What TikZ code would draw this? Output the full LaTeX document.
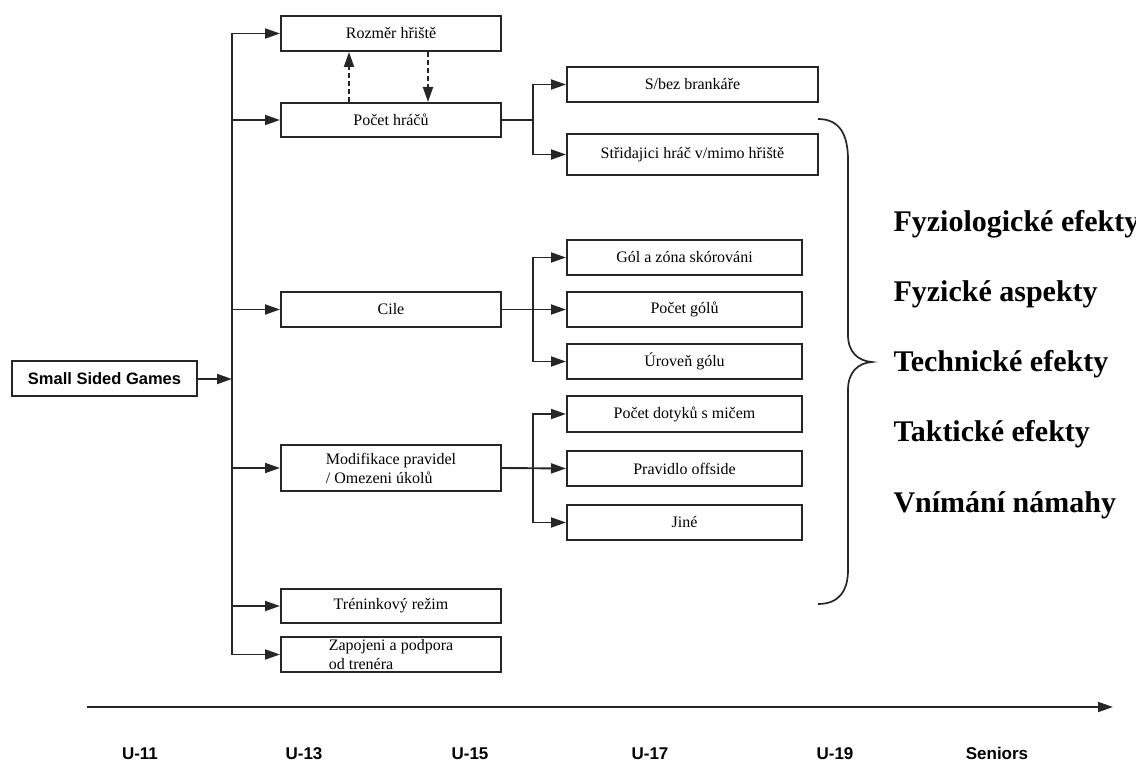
\documentclass[tikz,border=0pt]{standalone}
\usepackage{fontspec}
\setmainfont{Liberation Serif}
\setsansfont{Liberation Sans}
\usetikzlibrary{arrows.meta}

\tikzset{
  box/.style={draw=black!85, line width=2pt, minimum width=220pt, minimum height=35pt,
    inner sep=2pt, font=\fontsize{16}{19}\selectfont},
  subbox/.style={box, minimum width=235pt},
  link/.style={line width=1.9pt, draw=black!85},
  arr/.style={link, -{Triangle[length=15pt,width=10pt]}},
  dasharr/.style={arr, dash pattern=on 5pt off 3pt},
  effect/.style={anchor=base west, font=\fontsize{30}{36}\selectfont\bfseries},
  agelabel/.style={anchor=base, font=\sffamily\bfseries\fontsize{17}{20}\selectfont},
}

\begin{document}
\begin{tikzpicture}[x=1pt,y=-1pt]
    \useasboundingbox (0,0) rectangle (1136,767);

    % main column
    \node[box, minimum width=185pt, font=\sffamily\bfseries\fontsize{16.5}{19}\selectfont] (ssg) at (104.5,379) {Small Sided Games};
    \node[box] (rozmer) at (391,33.5) {Rozměr hřiště};
    \node[box, minimum height=34pt] (hraci) at (391,120) {Počet hráčů};
    \node[box] (cile) at (391,309.5) {Cile};
    \node[box, minimum height=46pt, align=left] (pravidla) at (391,468) {Modifikace pravidel\\/ Omezeni úkolů};
    \node[box, minimum height=34pt] (rezim) at (391,606) {Tréninkový režim};
    \node[box, align=left, inner ysep=0pt] (trener) at (391,654.5) {Zapojeni a podpora\\od trenéra};

    % second column
    \node[box, minimum width=251pt] (brankar) at (692.5,84.5) {S/bez brankáře};
    \node[box, minimum width=251pt, minimum height=41pt] (strid) at (692.5,154.5) {Střidajici hráč v/mimo hřiště};
    \node[subbox] (zona) at (684.5,257.5) {Gól a zóna skórováni};
    \node[subbox] (goly) at (684.5,309.5) {Počet gólů};
    \node[subbox] (uroven) at (684.5,361.5) {Úroveň gólu};
    \node[subbox, minimum height=36pt] (doteky) at (684.5,414) {Počet dotyků s mičem};
    \node[subbox] (offside) at (684.5,468.5) {Pravidlo offside};
    \node[subbox] (jine) at (684.5,522.5) {Jiné};

    % trunk
    \coordinate (ttop) at (232,33.5);
    \coordinate (tbot) at (232,654.5);
    \draw[link, line cap=rect] (ttop) -- (tbot);
    \draw[arr] (ssg.east) -- (ssg.east -| ttop);
    \foreach \n in {rozmer,hraci,cile,pravidla,rezim,trener}
        \draw[arr] (ttop |- \n.west) -- (\n.west);

    % dashed links
    \draw[dasharr] ([xshift=-42pt]hraci.north) -- ([xshift=-42pt]rozmer.south);
    \draw[dasharr] ([xshift=37pt]rozmer.south) -- ([xshift=37pt]hraci.north);

    % branches
    \coordinate (bhraci) at (533,120);
    \coordinate (bcile) at (533,309.5);
    \coordinate (bpravidla) at (533,468);
    \draw[link] (hraci.east) -- (bhraci);
    \draw[arr] (bhraci) |- (brankar.west);
    \draw[arr] (bhraci) |- (strid.west);
    \draw[arr] (cile.east) -- (goly.west);
    \draw[arr] (bcile) |- (zona.west);
    \draw[arr] (bcile) |- (uroven.west);
    \draw[arr] (pravidla.east) -- (offside.west);
    \draw[arr] (bpravidla) |- (doteky.west);
    \draw[arr] (bpravidla) |- (jine.west);

    % brace
    \draw[link, line width=1.7pt] (818,119) .. controls (840,119) and (848,135) .. (848,160) -- (848,335)
        .. controls (848,352) and (858,361) .. (872,362)
        .. controls (858,363) and (848,372) .. (848,390) -- (848,570)
        .. controls (848,592) and (838,604) .. (818,604);

    % effects
    \foreach \txt [count=\i] in {Fyziologické efekty, Fyzické aspekty, Technické efekty, Taktické efekty, Vnímání námahy}
        \node[effect] (eff\i) at (890,162+70*\i) {\txt};

    % age axis
    \coordinate (axstart) at (87,707);
    \coordinate (axend) at (1113,707);
    \draw[arr] (axstart) -- (axend);
    \foreach \x/\lab in {140/U-11, 304/U-13, 470/U-15, 650/U-17, 835/U-19, 997/Seniors}
        \node[agelabel] (age-\lab) at (\x,759) {\lab};
\end{tikzpicture}
\end{document}
